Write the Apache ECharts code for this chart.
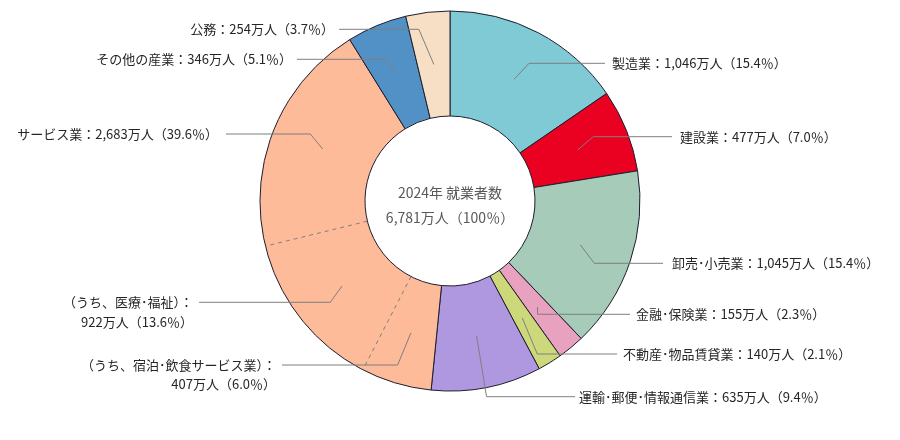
<!DOCTYPE html>
<html><head><meta charset="utf-8">
<script src="https://cdn.jsdelivr.net/npm/echarts@6/dist/echarts.min.js"></script>
<style>html,body{margin:0;padding:0;background:#fff}#c{width:900px;height:440px}</style>
</head><body><div id="c"></div>
<script>
// ---- data ----
const categories = ['製造業','建設業','卸売･小売業','金融･保険業','不動産･物品賃貸業','運輸･郵便･情報通信業','サービス業','その他の産業','公務'];
const workers = [1046, 477, 1045, 155, 140, 635, 2683, 346, 254];
const sharePct = [15.4, 7.0, 15.4, 2.3, 2.1, 9.4, 39.6, 5.1, 3.7];
const serviceSubNames = ['宿泊･飲食サービス業', '医療･福祉'];
const serviceSubValues = [407, 922];
const serviceSubPct = [6.0, 13.6];
const totalWorkers = 6781;
const totalPct = 100;
const surveyYear = 2024;

// ---- style ----
const colors = ['#7fcad4','#ea0021','#a6cbb9','#e8a2bf','#cdd87a','#b098e0','#fdbb9a','#5291c6','#f7dfc6'];
const CX = 450, CY = 201, R0 = 85, R1 = 190, RMID = 137.5;
const FONT = '"Noto Sans CJK JP", "Noto Sans", sans-serif';

const fmt = n => n.toLocaleString('en-US');
const p1 = p => p.toFixed(1);

const serviceIdx = categories.indexOf('サービス業');

// main ring
const mainData = categories.map((c, i) => ({ name: c, value: workers[i], itemStyle: { color: colors[i] } }));

// label carrier ring (service split into sub parts)
const labelData = [];
categories.forEach((c, i) => {
  if (i === serviceIdx) {
    let rest = workers[i];
    serviceSubNames.forEach((s, k) => {
      rest -= serviceSubValues[k];
      labelData.push({ name: s, value: serviceSubValues[k],
        label: { formatter: '（うち、' + s + '）：\n' + fmt(serviceSubValues[k]) + '万人（' + p1(serviceSubPct[k]) + '％）' } });
    });
    labelData.push({ name: c, value: rest,
      label: { formatter: c + '：' + fmt(workers[i]) + '万人（' + p1(sharePct[i]) + '％）' } });
  } else {
    labelData.push({ name: c, value: workers[i],
      label: { formatter: c + '：' + fmt(workers[i]) + '万人（' + p1(sharePct[i]) + '％）' } });
  }
});

// label placement (annotation layout)
const labelPlace = [
  { side: 1, ky: 63.3, dk: 15, ex: 605, tx: 612 },
  { side: 1, ky: 136.7, dk: 15.6, ex: 672, tx: 680 },
  { side: 1, ky: 263.3, dk: 14, ex: 663, tx: 672 },
  { side: 1, ky: 314.3, dk: 0, ex: 630, tx: 636 },
  { side: 1, ky: 354, dk: 15, ex: 617, tx: 623 },
  { side: 1, ky: 396.7, dk: 10, ex: 575, tx: 579 },
  { side: -1, ky: 365, dk: 13.3, ex: 282, tx: 276, two: true },
  { side: -1, ky: 302.3, dk: 11.7, ex: 199, tx: 193, two: true },
  { side: -1, ky: 134, dk: 12.4, ex: 226, tx: 218 },
  { side: -1, ky: 59.3, dk: 12.3, ex: 297, tx: 292 },
  { side: -1, ky: 29.3, dk: 15, ex: 339, tx: 334 }
];
const LH = 19.5;

// boundaries of service sub parts (angle axis in data units)
let svcStart = 0;
for (let i = 0; i < serviceIdx; i++) svcStart += workers[i];
const boundaries = [];
let acc = svcStart;
serviceSubValues.forEach(v => { acc += v; boundaries.push(acc); });

const chart = echarts.init(document.getElementById('c'), null, { renderer: 'canvas' });
chart.setOption({
  animation: false,
  backgroundColor: '#fff',
  polar: { center: [CX, CY], radius: [R0, R1] },
  angleAxis: { type: 'value', min: 0, max: totalWorkers, startAngle: 90, clockwise: true, show: false },
  radiusAxis: { type: 'value', min: 0, max: 1, show: false },
  graphic: [{
    type: 'text', x: CX, y: 205.5, silent: true,
    style: {
      text: surveyYear + '年 就業者数\n' + fmt(totalWorkers) + '万人（' + totalPct + '％）',
      fill: '#595959', fontSize: 14, fontFamily: FONT, lineHeight: 25,
      align: 'center', verticalAlign: 'middle', textAlign: 'center', textVerticalAlign: 'middle'
    }
  }],
  series: [
    {
      type: 'pie', center: [CX, CY], radius: [R0, R1], startAngle: 90, clockwise: true,
      silent: true, label: { show: false }, labelLine: { show: false },
      itemStyle: { borderColor: '#1e1e2e', borderWidth: 1 },
      emphasis: { disabled: true },
      data: mainData, z: 1
    },
    ...boundaries.map(b => ({
      type: 'line', coordinateSystem: 'polar', silent: true, symbol: 'none', z: 3,
      lineStyle: { type: [4, 4], color: '#7f7f7f', width: 1 },
      data: [[0, b], [1, b]]
    })),
    {
      type: 'pie', center: [CX, CY], radius: [0, RMID], startAngle: 90, clockwise: true,
      silent: true, z: 4,
      itemStyle: { color: 'rgba(0,0,0,0)', borderWidth: 0 },
      emphasis: { disabled: true },
      avoidLabelOverlap: false,
      label: { show: true, position: 'outside', color: '#262626', fontSize: 13, fontFamily: FONT, lineHeight: LH },
      labelLine: { show: true, length: 10, length2: 10, smooth: false, lineStyle: { color: '#7f7f7f', width: 1 } },
      labelLayout: function (params) {
        const L = labelPlace[params.dataIndex];
        if (!L) return {};
        const s = (params.labelLinePoints && params.labelLinePoints[0]) ? params.labelLinePoints[0] : [CX, CY];
        const knee = [s[0] + L.side * L.dk, L.ky];
        const end = [L.ex, L.ky];
        return {
          x: L.tx,
          y: L.two ? L.ky - LH / 2 : L.ky,
          align: L.side > 0 ? 'left' : 'right',
          verticalAlign: L.two ? 'top' : 'middle',
          labelLinePoints: [s, knee, end]
        };
      },
      data: labelData
    }
  ]
});
</script>
</body></html>
